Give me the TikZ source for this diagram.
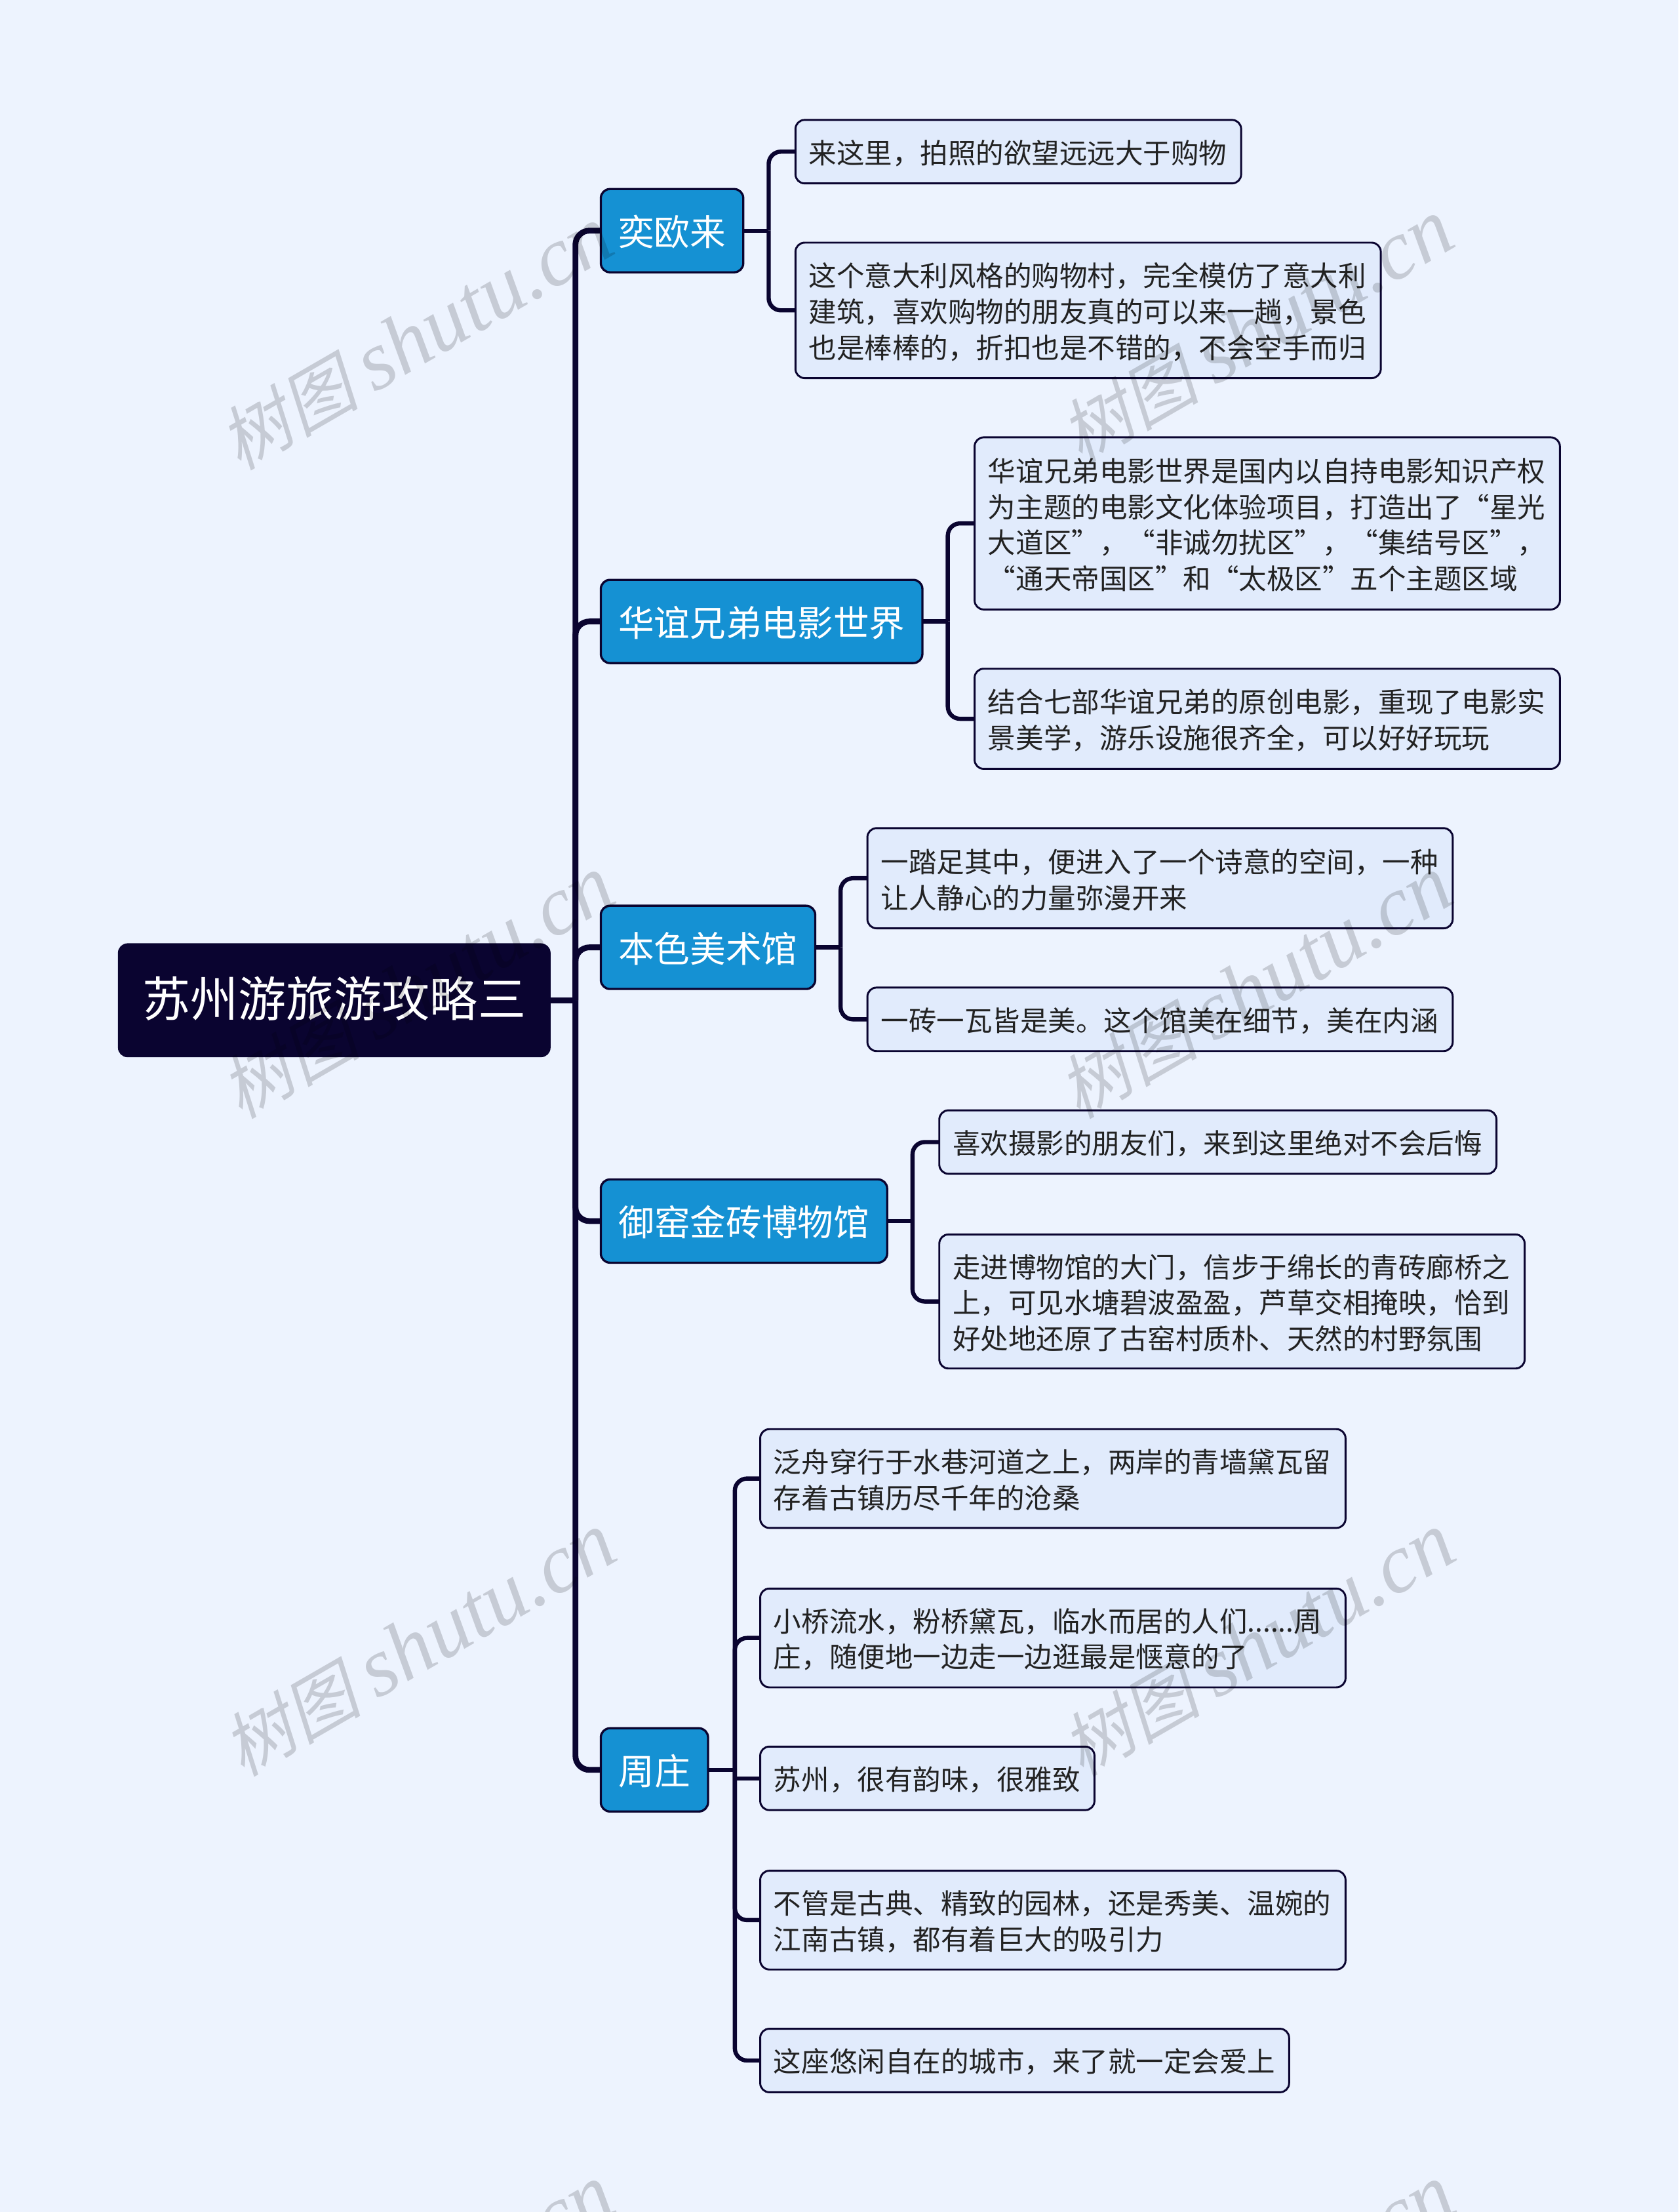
\documentclass[tikz,border=0pt]{standalone}
\usepackage{fontspec}
\newfontfamily\cjk{Noto Sans CJK SC}
\newfontfamily\wmcjk[FakeSlant=0.22]{Noto Sans CJK SC}
\newfontfamily\wmlat{Liberation Serif}
\definecolor{bgc}{HTML}{EDF3FE}
\definecolor{ink}{HTML}{0A0430}
\definecolor{blu}{HTML}{1591D3}
\definecolor{lf}{HTML}{E1EBFC}
\definecolor{tx}{HTML}{222222}
\def\u{0.8067pt}
\tikzset{
 base/.style={rectangle,rounded corners=5.2pt,draw=ink,inner sep=0pt,outer sep=0pt},
 rootbox/.style={base,fill=ink,text=white,line width=.6pt,font=\cjk\fontsize{27.4}{32}\selectfont},
 branchbox/.style={base,fill=blu,text=white,line width=1.25pt,font=\cjk\fontsize{20.5}{25}\selectfont},
 leafbox/.style={base,fill=lf,text=tx,line width=1.1pt,font=\cjk\fontsize{15.94}{20.6}\selectfont},
 mainline/.style={draw=ink,line width=3.3pt,rounded corners=8pt},
 subline/.style={draw=ink,line width=2.4pt,rounded corners=7pt},
 wm/.style={rotate=30,text=black,opacity=.16,inner sep=0pt}
}
\newcommand\boxat[7]{\node[#1,minimum width={(#4-#3)*\u},minimum height={(#6-#5)*\u}] (#2) at ({(#3+#4)/2},{(#5+#6)/2}) {\vbox{\kern1.6pt\hbox{#7}}};}
\newcommand\leafat[6]{\pgfmathsetlengthmacro\tw{(#3-#2-19)*\u}\node[leafbox,minimum width={(#3-#2)*\u},minimum height={(#5-#4)*\u}] (#1) at ({(#2+#3)/2},{(#4+#5)/2}) {\vbox{\kern1.6pt\hbox{\parbox{\tw}{\raggedright #6}}}};}
\newcommand\wmark[3]{\node[wm] (#1) at (#2,#3) {{\wmcjk\fontsize{40}{46}\selectfont 树图}\hspace{9pt}{\wmlat\itshape\fontsize{48}{50}\selectfont shutu.cn}};}
\begin{document}
\begin{tikzpicture}[x=\u,y=-\u]
\useasboundingbox (0,0) rectangle (1190,1567.9);
\clip (0,0) rectangle (1190,1567.9);
\fill[bgc] (0,0) rectangle (1190,1567.9);
\boxat{rootbox}{root}{84}{390}{669}{749}{\vbox{\hbox{苏州游旅游攻略三}\kern3.2pt}}
\boxat{branchbox}{b1}{426}{527}{134}{193}{奕欧来}
\boxat{branchbox}{b2}{426}{654}{411}{470}{华谊兄弟电影世界}
\boxat{branchbox}{b3}{426}{578}{642}{701}{本色美术馆}
\boxat{branchbox}{b4}{426}{629}{836}{895}{御窑金砖博物馆}
\boxat{branchbox}{b5}{426}{502}{1225}{1284}{周庄}
\leafat{l1}{564}{880}{85}{130}{来这里，拍照的欲望远远大于购物}
\leafat{l2}{564}{979}{172}{268}{这个意大利风格的购物村，完全模仿了意大利\\建筑，喜欢购物的朋友真的可以来一趟，景色\\也是棒棒的，折扣也是不错的，不会空手而归}
\leafat{l3}{691}{1106}{310}{432}{华谊兄弟电影世界是国内以自持电影知识产权\\为主题的电影文化体验项目，打造出了“星光\\大道区”，“非诚勿扰区”，“集结号区”，\\“通天帝国区”和“太极区”五个主题区域}
\leafat{l4}{691}{1106}{474}{545}{结合七部华谊兄弟的原创电影，重现了电影实\\景美学，游乐设施很齐全，可以好好玩玩}
\leafat{l5}{615}{1030}{587}{658}{一踏足其中，便进入了一个诗意的空间，一种\\让人静心的力量弥漫开来}
\leafat{l6}{615}{1030}{700}{745}{一砖一瓦皆是美。这个馆美在细节，美在内涵}
\leafat{l7}{666}{1061}{787}{832}{喜欢摄影的朋友们，来到这里绝对不会后悔}
\leafat{l8}{666}{1081}{875}{970}{走进博物馆的大门，信步于绵长的青砖廊桥之\\上，可见水塘碧波盈盈，芦草交相掩映，恰到\\好处地还原了古窑村质朴、天然的村野氛围}
\leafat{l9}{539}{954}{1013}{1083}{泛舟穿行于水巷河道之上，两岸的青墙黛瓦留\\存着古镇历尽千年的沧桑}
\leafat{l10}{539}{954}{1126}{1196}{小桥流水，粉桥黛瓦，临水而居的人们......周\\庄，随便地一边走一边逛最是惬意的了}
\leafat{l11}{539}{776}{1238}{1283}{苏州，很有韵味，很雅致}
\leafat{l12}{539}{954}{1326}{1396}{不管是古典、精致的园林，还是秀美、温婉的\\江南古镇，都有着巨大的吸引力}
\leafat{l13}{539}{914}{1438}{1483}{这座悠闲自在的城市，来了就一定会爱上}
\coordinate (s0) at (408,0);
\coordinate (s1) at (545,0);
\coordinate (s2) at (672,0);
\coordinate (s3) at (596,0);
\coordinate (s4) at (647,0);
\coordinate (s5) at (521,0);
\path[mainline,sharp corners] (root.east) -- (s0 |- root.east);
\foreach \b in {b1,b2,b3,b4,b5}
  \path[mainline] (s0 |- root.east) -- (s0 |- \b.west) -- (\b.west);
\path[subline,sharp corners] (b1.east) -- (s1 |- b1.east);
\foreach \l in {l1,l2} \path[subline] (s1 |- b1.east) -- (s1 |- \l.west) -- (\l.west);
\path[subline,sharp corners] (b2.east) -- (s2 |- b2.east);
\foreach \l in {l3,l4} \path[subline] (s2 |- b2.east) -- (s2 |- \l.west) -- (\l.west);
\path[subline,sharp corners] (b3.east) -- (s3 |- b3.east);
\foreach \l in {l5,l6} \path[subline] (s3 |- b3.east) -- (s3 |- \l.west) -- (\l.west);
\path[subline,sharp corners] (b4.east) -- (s4 |- b4.east);
\foreach \l in {l7,l8} \path[subline] (s4 |- b4.east) -- (s4 |- \l.west) -- (\l.west);
\path[subline,sharp corners] (b5.east) -- (s5 |- b5.east);
\foreach \l in {l9,l10,l12,l13} \path[subline] (s5 |- b5.east) -- (s5 |- \l.west) -- (\l.west);
\path[subline,sharp corners] (s5 |- b5.east) -- (s5 |- l11.west) -- (l11.west);
\wmark{w1}{295}{240}
\wmark{w2}{891}{235}
\wmark{w3}{296}{700}
\wmark{w4}{890}{700}
\wmark{w5}{297}{1166}
\wmark{w6}{892}{1166}
\wmark{w7}{296}{1628}
\wmark{w8}{892}{1628}
\end{tikzpicture}
\end{document}
